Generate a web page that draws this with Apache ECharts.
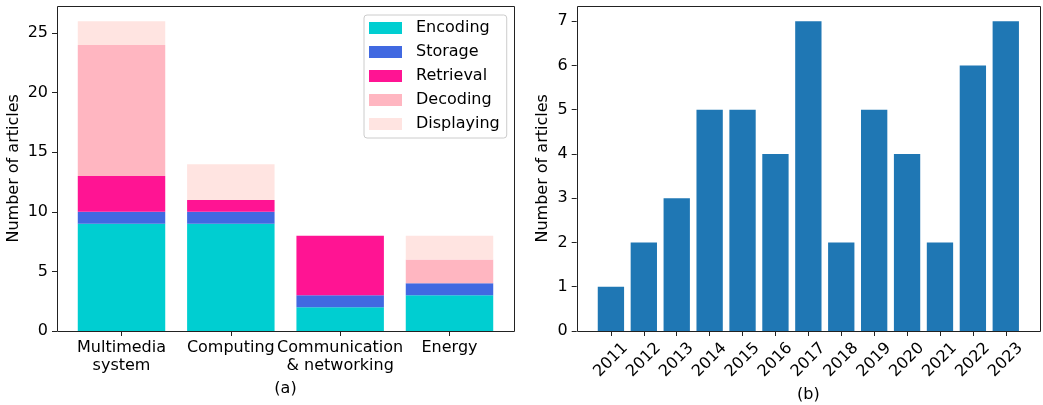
<!DOCTYPE html>
<html>
<head>
<meta charset="utf-8">
<script src="https://cdn.jsdelivr.net/npm/echarts@6/dist/echarts.min.js"></script>
<style>
  html, body { margin: 0; padding: 0; background: #fff; }
  #chart { width: 1043px; height: 405px; }
</style>
</head>
<body>
<div id="chart"></div>
<script>
// Panel (a): articles per application domain, stacked by pipeline stage
const domains = ['Multimedia\nsystem', 'Computing', 'Communication\n& networking', 'Energy'];
const stageNames = ['Encoding', 'Storage', 'Retrieval', 'Decoding', 'Displaying'];
const encoding   = [9, 9, 2, 3];
const storage    = [1, 1, 1, 1];
const retrieval  = [3, 1, 5, 0];
const decoding   = [11, 0, 0, 2];
const displaying = [2, 3, 0, 2];

// Panel (b): articles per publication year
const years = ['2011', '2012', '2013', '2014', '2015', '2016', '2017', '2018', '2019', '2020', '2021', '2022', '2023'];
const yearCounts = [1, 2, 3, 5, 5, 4, 7, 2, 5, 4, 2, 6, 7];

const stageColors = ['#00CED1', '#4169E1', '#FF1493', '#FFB6C1', '#FFE4E1'];
const FONT = 'DejaVu Sans';
const FS = 16;

const chart = echarts.init(document.getElementById('chart'), null, { renderer: 'canvas' });

// Plot frames (axes boxes)
const frameA = { x: 57, y: 5.7, w: 457, h: 325.3 };
const frameB = { x: 576.7, y: 5.7, w: 463.3, h: 325.3 };

// Category bands sit inside the frames with matplotlib-like side margins
const stepA = frameA.w / 4.18;
const padA = (0.59 - 0.5) * stepA;
const stepB = frameB.w / 14.08;
const padB = (1.04 - 0.5) * stepB;

const stageSeries = [encoding, storage, retrieval, decoding, displaying];

function yAxisCommon(offset, max, interval, nameGap) {
  return {
    type: 'value',
    min: 0, max: max, interval: interval,
    offset: offset,
    name: 'Number of articles',
    nameLocation: 'middle',
    nameGap: nameGap,
    nameTextStyle: { fontFamily: FONT, fontSize: FS, color: '#000' },
    axisLine: { show: false },
    axisTick: { show: true, length: 5, lineStyle: { color: '#222', width: 1 } },
    axisLabel: { fontFamily: FONT, fontSize: FS, color: '#000', margin: 9,
      verticalAlign: 'middle', showMaxLabel: false },
    splitLine: { show: false }
  };
}

const option = {
  animation: false,
  backgroundColor: '#fff',
  grid: [
    { left: frameA.x + padA, top: frameA.y, width: stepA * 4, height: frameA.h,
      containLabel: false, outerBoundsMode: 'none' },
    { left: frameB.x + padB, top: frameB.y, width: stepB * 13, height: frameB.h,
      containLabel: false, outerBoundsMode: 'none' }
  ],
  xAxis: [
    {
      type: 'category', gridIndex: 0, data: domains,
      name: '(a)', nameLocation: 'middle', nameGap: 50,
      nameTextStyle: { fontFamily: FONT, fontSize: FS, color: '#000' },
      axisLine: { show: false },
      axisTick: { show: true, alignWithLabel: true, length: 5, lineStyle: { color: '#222', width: 1 } },
      axisLabel: { fontFamily: FONT, fontSize: FS, color: '#000', margin: 8, lineHeight: 18, interval: 0 }
    },
    {
      type: 'category', gridIndex: 1, data: years,
      name: '(b)', nameLocation: 'middle', nameGap: 55,
      nameTextStyle: { fontFamily: FONT, fontSize: FS, color: '#000' },
      axisLine: { show: false },
      axisTick: { show: true, alignWithLabel: true, length: 5, lineStyle: { color: '#222', width: 1 } },
      axisLabel: { fontFamily: FONT, fontSize: FS, color: '#000', rotate: 45, margin: 29,
        align: 'center', verticalAlign: 'middle', interval: 0 }
    }
  ],
  yAxis: [
    Object.assign(yAxisCommon(padA, 27.3, 5, 35), { gridIndex: 0 }),
    Object.assign(yAxisCommon(padB, 7.35, 1, 26), { gridIndex: 1 })
  ],
  legend: {
    orient: 'vertical',
    left: 364, top: 15,
    data: stageNames,
    itemWidth: 33, itemHeight: 12, itemGap: 8,
    padding: [5, 7, 6, 5],
    borderColor: '#cccccc', borderWidth: 1, borderRadius: 3,
    backgroundColor: 'rgba(255,255,255,0.8)',
    icon: 'rect',
    textStyle: { fontFamily: FONT, fontSize: FS, color: '#000', lineHeight: 16, padding: [0, 0, 0, 9] }
  },
  series: stageNames.map((name, i) => ({
    name: name,
    type: 'bar',
    stack: 'stage',
    xAxisIndex: 0, yAxisIndex: 0,
    barWidth: '80%',
    itemStyle: { color: stageColors[i] },
    data: stageSeries[i]
  })).concat([{
    name: 'Articles per year',
    type: 'bar',
    xAxisIndex: 1, yAxisIndex: 1,
    barWidth: '80%',
    itemStyle: { color: '#1f77b4' },
    data: yearCounts
  }]),
  graphic: [frameA, frameB].map(f => ({
    type: 'rect',
    z: 100,
    silent: true,
    shape: { x: Math.round(f.x) + 0.5, y: Math.round(f.y) + 0.5, width: Math.round(f.w), height: Math.round(f.h) },
    style: { fill: 'none', stroke: '#222', lineWidth: 1 }
  }))
};

chart.setOption(option);
</script>
</body>
</html>
